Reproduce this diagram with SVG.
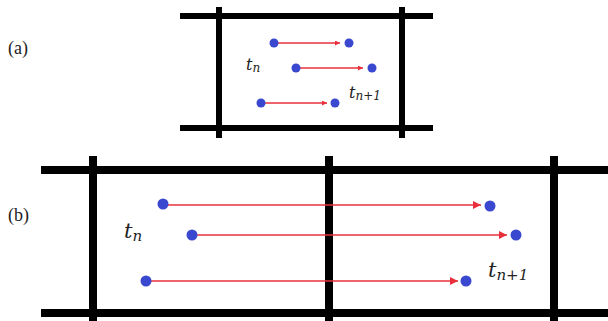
<svg xmlns="http://www.w3.org/2000/svg" width="608" height="321" viewBox="0 0 608 321">
<defs>
<style>
.g{stroke:#000;stroke-linecap:butt}
.ga{stroke-width:6}
.gb{stroke-width:8}
.arr{stroke:#e8303c;stroke-width:1.6;fill:none}
.dot{fill:#3a48d0}
.lab{font-size:18px;fill:#222}
.t{font-style:italic;fill:#222}
</style>
<marker id="ah" viewBox="0 0 10 10" refX="10" refY="5" markerWidth="5" markerHeight="5" orient="auto" markerUnits="userSpaceOnUse">
<path d="M0,0 L10,5 L0,10 z" fill="#e8303c"/>
</marker>
<marker id="ahb" viewBox="0 0 10 10" refX="10" refY="5" markerWidth="8" markerHeight="8" orient="auto" markerUnits="userSpaceOnUse">
<path d="M0,0 L10,5 L0,10 z" fill="#e8303c"/>
</marker>
</defs>
<rect width="608" height="321" fill="#fff"/>
<text class="lab" font-family="Liberation Serif, serif" x="8" y="54">(a)</text>
<text class="lab" font-family="Liberation Serif, serif" x="8" y="221">(b)</text>
<g id="grid-a">
<line class="g ga" x1="180" y1="16" x2="433" y2="16"/>
<line class="g ga" x1="180" y1="128" x2="433" y2="128"/>
<line class="g ga" x1="219" y1="7" x2="219" y2="138"/>
<line class="g ga" x1="402" y1="7" x2="402" y2="138"/>
</g>
<g id="grid-b">
<line class="g gb" x1="41" y1="170" x2="608" y2="170"/>
<line class="g gb" x1="41" y1="313" x2="608" y2="313"/>
<line class="g gb" x1="93" y1="156" x2="93" y2="321"/>
<line class="g gb" x1="329" y1="156" x2="329" y2="321"/>
<line class="g gb" x1="554" y1="156" x2="554" y2="321"/>
</g>
<g id="connectors">
<line class="arr" x1="274" y1="43" x2="340" y2="43" marker-end="url(#ah)"/>
<line class="arr" x1="296" y1="68" x2="363" y2="68" marker-end="url(#ah)"/>
<line class="arr" x1="261" y1="103" x2="327" y2="103" marker-end="url(#ah)"/>
<line class="arr" x1="163" y1="205" x2="481" y2="205" marker-end="url(#ahb)"/>
<line class="arr" x1="192" y1="235" x2="507" y2="235" marker-end="url(#ahb)"/>
<line class="arr" x1="146" y1="281" x2="458" y2="281" marker-end="url(#ahb)"/>
</g>
<g id="points-a">
<circle class="dot" cx="274" cy="43" r="4.5"/>
<circle class="dot" cx="349" cy="43" r="4.5"/>
<circle class="dot" cx="296" cy="68" r="4.5"/>
<circle class="dot" cx="372" cy="68" r="4.5"/>
<circle class="dot" cx="261" cy="103" r="4.5"/>
<circle class="dot" cx="335" cy="103" r="4.5"/>
</g>
<g id="points-b">
<circle class="dot" cx="163" cy="204" r="5.5"/>
<circle class="dot" cx="490" cy="206" r="5.5"/>
<circle class="dot" cx="192" cy="235" r="5.5"/>
<circle class="dot" cx="516" cy="235" r="5.5"/>
<circle class="dot" cx="146" cy="281" r="5.5"/>
<circle class="dot" cx="466" cy="281" r="5.5"/>
</g>
<g id="labels-a">
<text class="t" font-family="DejaVu Serif, serif" x="246" y="70" font-size="16">t<tspan font-size="12" dy="2">n</tspan></text>
<text class="t" font-family="DejaVu Serif, serif" x="349" y="98" font-size="16">t<tspan font-size="12" dy="2">n+1</tspan></text>
</g>
<g id="labels-b">
<text class="t" font-family="DejaVu Serif, serif" x="124" y="238" font-size="21">t<tspan font-size="15" dy="3">n</tspan></text>
<text class="t" font-family="DejaVu Serif, serif" x="488" y="277" font-size="21">t<tspan font-size="15" dy="3">n+1</tspan></text>
</g>
</svg>
